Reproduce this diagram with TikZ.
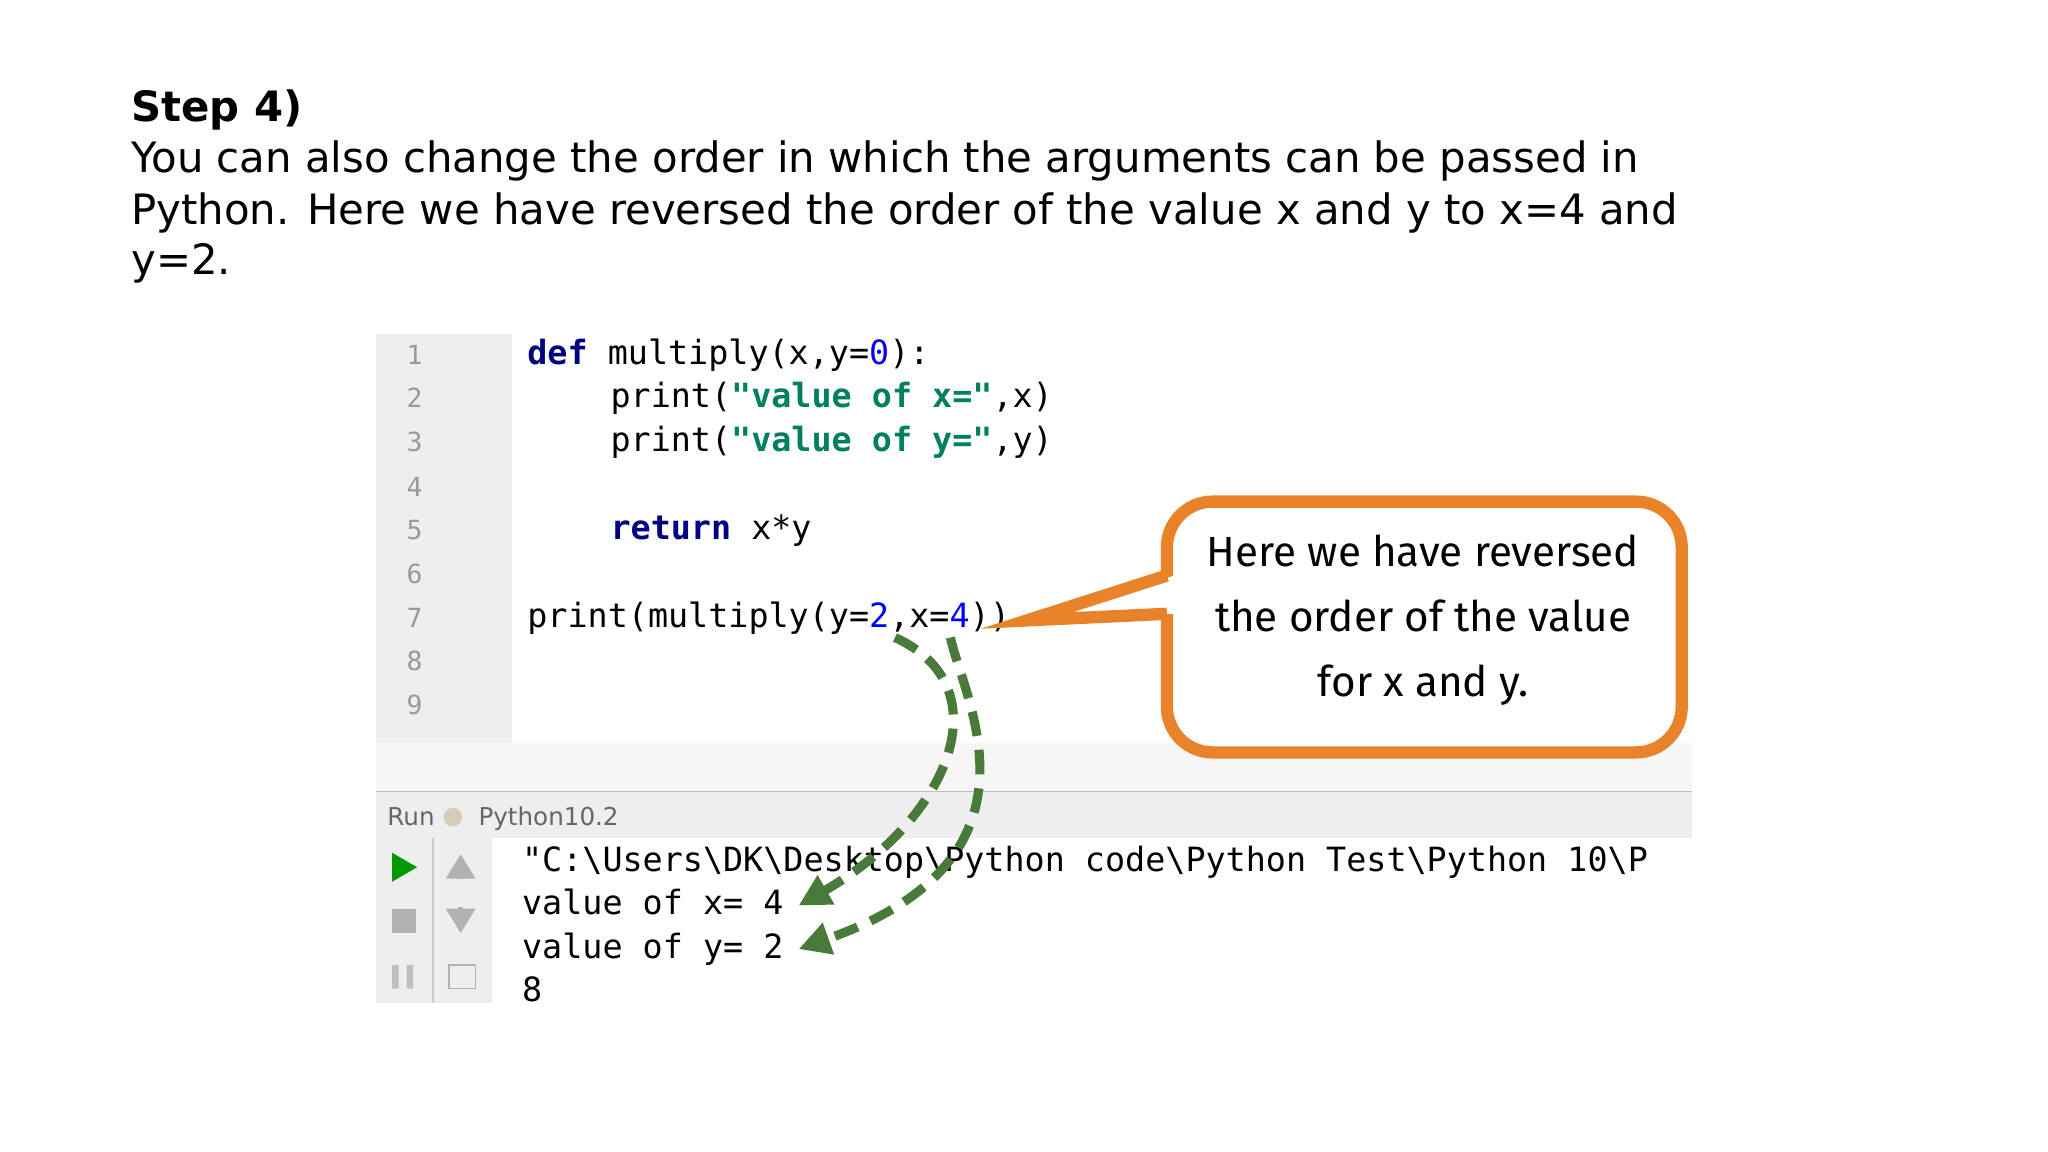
\documentclass[tikz,border=0pt]{standalone}
\usepackage{fontspec}
\setmainfont{DejaVu Sans}
\newfontfamily\codefont{DejaVu Sans Mono}
\newfontfamily\handfont{Fira Sans}
\usetikzlibrary{arrows.meta}
\definecolor{kw}{HTML}{000080}
\definecolor{str}{HTML}{008060}
\definecolor{num}{HTML}{0000FF}
\definecolor{gut}{HTML}{EEEEEE}
\definecolor{lnum}{HTML}{999999}
\definecolor{orng}{HTML}{E8832A}
\definecolor{grn}{HTML}{4A7A3A}
\tikzset{
  body/.style={anchor=base west,inner sep=0pt,font=\fontsize{11.9}{14}\selectfont},
  code/.style={anchor=base west,inner sep=0pt,font=\codefont\fontsize{9.5}{12}\selectfont},
  lno/.style={anchor=base,inner sep=0pt,text=lnum,font=\codefont\fontsize{7.5}{9}\selectfont},
  arr/.style={grn,line width=2.6pt,dash pattern=on 7pt off 4pt,-{Triangle[length=9pt,width=9pt]}}
}
\begin{document}
\begin{tikzpicture}[x=0.0132cm,y=-0.0132cm]
\useasboundingbox (0,0) rectangle (1551.5,872.7);
\node[body,font=\bfseries\fontsize{11.9}{14}\selectfont] (t0) at (99,92) {Step 4)};
\node[body] (t1) at (99,131) {You can also change the order in which the arguments can be passed in};
\node[body] (t2) at (99,170) {Python. Here we have reversed the order of the value x and y to x=4 and};
\node[body] (t3) at (99,208) {y=2.};
% editor
\fill[gut] (285,253) rectangle (388,563);
\fill[white!93!gray] (285,563) rectangle (1282,600);
\draw[gray!50] (285,600) -- (1282,600);
\fill[gut] (285,600) rectangle (1282,635);
\fill[gut] (285,635) rectangle (373,760);
\draw[gray!40] (328,635) -- (328,760);
\foreach \n/\y in {1/276,2/309,3/342,4/376,5/409,6/442,7/475,8/508,9/541}
  \node[lno] (l\n) at (314,\y) {\n};
\node[code] (c1) at (399,276) {\textcolor{kw}{\bfseries def} multiply(x,y=\textcolor{num}{0}):};
\node[code] (c2) at (462,309) {print(\textcolor{str}{\bfseries"value of x="},x)};
\node[code] (c3) at (462,342) {print(\textcolor{str}{\bfseries"value of y="},y)};
\node[code] (c5) at (462,409) {\textcolor{kw}{\bfseries return} x*y};
\node[code] (c7) at (399,475) {print(multiply(y=\textcolor{num}{2},x=\textcolor{num}{4}))};
\node[anchor=base west,inner sep=0pt,font=\fontsize{7}{8}\selectfont,text=gray!80!black] (run) at (293,625) {Run};
\fill[yellow!60!blue!40] (343,619) circle (7);
\node[anchor=base west,inner sep=0pt,font=\fontsize{7}{8}\selectfont,text=gray!80!black] (py) at (362,625) {Python10.2};
\fill[green!60!black] (297,646) -- (316,657) -- (297,668) -- cycle;
\fill[gray!60] (297,689) rectangle (315,707);
\fill[gray!50] (297,731) rectangle (302,749) (308,731) rectangle (313,749);
\draw[gray!60,line width=1.5pt,-{Triangle}] (349,666) -- (349,647);
\draw[gray!60,line width=1.5pt,-{Triangle}] (349,687) -- (349,707);
\draw[gray!60] (340,731) rectangle (360,749);
\node[code] (o1) at (395,660) {"C:\textbackslash Users\textbackslash DK\textbackslash Desktop\textbackslash Python code\textbackslash Python Test\textbackslash Python 10\textbackslash P};
\fill[white] (1282,630) rectangle (1320,680);
\node[code] (o2) at (395,693) {value of x= 4};
\node[code] (o3) at (395,726) {value of y= 2};
\node[code] (o4) at (395,759) {8};
% callout
\draw[orng,line width=3.5pt,rounded corners=13pt,fill=white] (884,380) rectangle (1274,570);
\fill[white] (890,436) -- (778,470) -- (890,465) -- cycle;
\draw[orng,line width=3.5pt,line join=miter] (884,436) -- (778,470) -- (884,465);
\node[inner sep=0pt,align=center,font=\handfont\fontsize{12}{18.5}\selectfont] (call) at (1078,470)
  {Here we have reversed\\the order of the value\\for x and y.};
% arrows
\coordinate (s1) at (678,483);
\coordinate (s2) at (720,483);
\draw[arr] (s1) .. controls (760,520) and (720,620) .. (605,686);
\draw[arr] (s2) .. controls (730,530) and (800,650) .. (605,719);
\end{tikzpicture}
\end{document}
